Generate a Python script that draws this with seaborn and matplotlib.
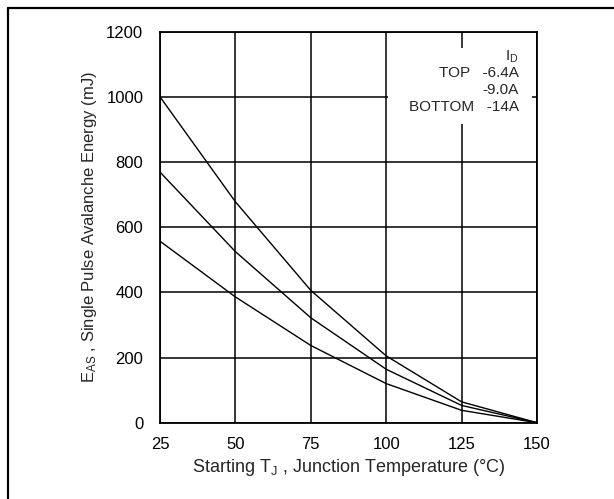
import pandas as pd
import matplotlib.pyplot as plt
import seaborn as sns
from matplotlib.patches import Rectangle
from matplotlib.lines import Line2D

# data
temps = [25, 50, 75, 100, 125, 150]
eas_top = [1000, 678, 406, 205, 64, 0]      # -6.4A
eas_mid = [769, 525, 322, 164, 53, 0]       # -9.0A
eas_bottom = [557, 386, 237, 120, 38, 0]    # -14A
currents = ["-6.4A", "-9.0A", "-14A"]

df = pd.DataFrame({
    "Tj": temps * 3,
    "Eas": eas_top + eas_mid + eas_bottom,
    "Id": [currents[0]] * 6 + [currents[1]] * 6 + [currents[2]] * 6,
})

sns.set_style("white")
plt.rcParams["font.family"] = ["Liberation Sans", "DejaVu Sans"]
plt.rcParams["mathtext.default"] = "regular"

fig = plt.figure(figsize=(6.14, 4.99), dpi=100)
ax = fig.add_axes([0.2606, 0.1529, 0.614, 0.7836])

sns.lineplot(data=df, x="Tj", y="Eas", hue="Id", palette=["black"] * 3,
             linewidth=1.0, legend=False, ax=ax, zorder=3)

ax.set_xlim(25, 150)
ax.set_ylim(0, 1200)
ax.set_xticks(temps)
ax.set_yticks(range(0, 1201, 200))
ax.set_axisbelow(True)
ax.grid(True, color="black", linewidth=1.1)
for s in ax.spines.values():
    s.set_color("black")
    s.set_linewidth(1.3)
ax.tick_params(axis="both", length=0, labelsize=12, colors="black")
ax.tick_params(axis="x", pad=10)
ax.tick_params(axis="y", pad=12)

ax.set_xlabel("Starting T$_J$ , Junction Temperature (°C)", fontsize=13, labelpad=4)
ax.set_ylabel("E$_{AS}$ , Single Pulse Avalanche Energy (mJ)", fontsize=12, labelpad=5)

# white box behind the current legend text
ax.add_patch(Rectangle((100.6, 916), 47.7, 233, facecolor="white",
                       edgecolor="none", zorder=1.5))
legend_lines = ["I$_D$", "TOP   " + currents[0], currents[1], "BOTTOM   " + currents[2]]
legend_y = [1111, 1062, 1009, 958]
for txt, yy in zip(legend_lines, legend_y):
    ax.text(144.0, yy, txt, ha="right", va="baseline", fontsize=11, zorder=4)

# partial page frame (top and left edge)
fig.add_artist(Line2D([7.5 / 614, 1], [1 - 7.5 / 499, 1 - 7.5 / 499],
                      transform=fig.transFigure, color="black", linewidth=1.6))
fig.add_artist(Line2D([7.5 / 614, 7.5 / 614], [0, 1 - 7.5 / 499],
                      transform=fig.transFigure, color="black", linewidth=1.6))

fig.savefig("out.png", dpi=100)
